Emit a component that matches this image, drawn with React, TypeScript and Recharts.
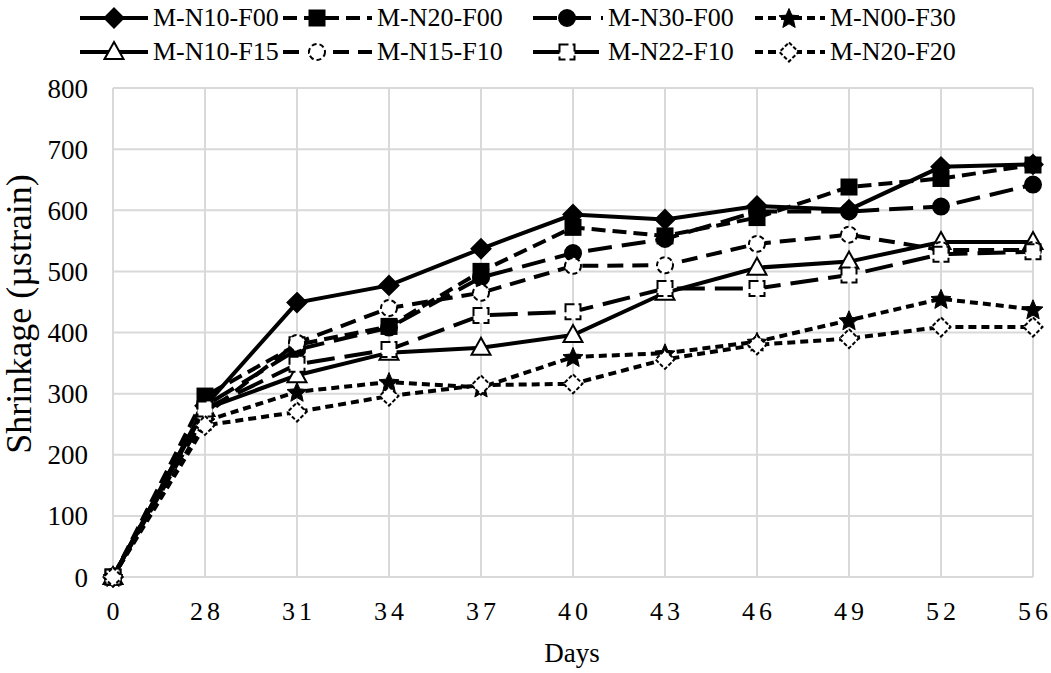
import { LineChart, Line, XAxis, YAxis, CartesianGrid, Label } from 'recharts';

// shrinkage readings (µstrain) by day
const days = ['0', '28', '31', '34', '37', '40', '43', '46', '49', '52', '56'];
const yTicks = [0, 100, 200, 300, 400, 500, 600, 700, 800];

const mN10F00 = [0, 280, 449, 477, 537, 593, 585, 607, 601, 671, 675];
const mN20F00 = [0, 296, 380, 410, 500, 572, 558, 588, 638, 652, 674];
const mN30F00 = [0, 280, 372, 408, 490, 530, 553, 598, 598, 606, 642];
const mN00F30 = [0, 255, 303, 319, 310, 360, 366, 385, 420, 455, 438];
const mN10F15 = [0, 275, 330, 367, 375, 396, 465, 506, 516, 548, 548];
const mN15F10 = [0, 265, 383, 440, 465, 509, 510, 545, 560, 535, 535];
const mN22F10 = [0, 275, 348, 372, 428, 434, 472, 472, 494, 528, 532];
const mN20F20 = [0, 248, 270, 296, 314, 316, 356, 380, 390, 409, 409];

type Shape = 'diamond' | 'square' | 'circle' | 'star' | 'triangle';

interface SeriesDef {
  name: string;
  values: number[];
  dash?: string;
  shape: Shape;
  filled: boolean;
  markerDash?: string;
}

const series: SeriesDef[] = [
  { name: 'M-N10-F00', values: mN10F00, shape: 'diamond', filled: true },
  { name: 'M-N20-F00', values: mN20F00, dash: '14 7', shape: 'square', filled: true },
  { name: 'M-N30-F00', values: mN30F00, dash: '24 10', shape: 'circle', filled: true },
  { name: 'M-N00-F30', values: mN00F30, dash: '8 5', shape: 'star', filled: true },
  { name: 'M-N10-F15', values: mN10F15, shape: 'triangle', filled: false },
  { name: 'M-N15-F10', values: mN15F10, dash: '16 9', shape: 'circle', filled: false, markerDash: '5 3' },
  { name: 'M-N22-F10', values: mN22F10, dash: '28 10', shape: 'square', filled: false, markerDash: '9 4' },
  { name: 'M-N20-F20', values: mN20F20, dash: '8 5', shape: 'diamond', filled: false, markerDash: '4 2' },
];

const chartData = days.map((d, i) => {
  const row: Record<string, string | number> = { day: d };
  series.forEach((s) => {
    row[s.name] = s.values[i];
  });
  return row;
});

const FONT = "'Liberation Serif', 'Times New Roman', Times, 'DejaVu Serif', serif";

function Marker({ cx, cy, shape, filled, dash }: { cx: number; cy: number; shape: Shape; filled: boolean; dash?: string }) {
  const p = {
    fill: filled ? '#000' : '#fff',
    stroke: '#000',
    strokeWidth: 2,
    strokeDasharray: dash,
  };
  if (shape === 'diamond') {
    const s = 9.5;
    return <polygon {...p} points={`${cx},${cy - s} ${cx + s},${cy} ${cx},${cy + s} ${cx - s},${cy}`} />;
  }
  if (shape === 'square') {
    return <rect {...p} x={cx - 7.5} y={cy - 7.5} width={15} height={15} />;
  }
  if (shape === 'circle') {
    return <circle {...p} cx={cx} cy={cy} r={8} />;
  }
  if (shape === 'triangle') {
    return <polygon {...p} points={`${cx},${cy - 10} ${cx + 9.5},${cy + 7} ${cx - 9.5},${cy + 7}`} />;
  }
  // star
  const pts: string[] = [];
  for (let k = 0; k < 10; k++) {
    const r = k % 2 === 0 ? 10.5 : 4.8;
    const a = -Math.PI / 2 + (k * Math.PI) / 5;
    pts.push(`${cx + r * Math.cos(a)},${cy + 1 + r * Math.sin(a)}`);
  }
  return <polygon {...p} strokeWidth={1} points={pts.join(' ')} />;
}

function makeDot(s: SeriesDef) {
  return (props: any) => {
    const { cx, cy, index } = props;
    if (cx == null || cy == null) return <g key={index} />;
    return (
      <g key={`${s.name}-${index}`}>
        <Marker cx={cx} cy={cy} shape={s.shape} filled={s.filled} dash={s.markerDash} />
      </g>
    );
  };
}

function XTick(props: any) {
  const { x, y, payload } = props;
  return (
    <text x={x + 2} y={y} dy="0.71em" textAnchor="middle" letterSpacing={4} fontSize={26} style={{ fontFamily: FONT }} fill="#000">
      {payload.value}
    </text>
  );
}

// legend columns: where the symbol starts and where the text starts
const legendCols = [
  { sym: 80, text: 153 },
  { sym: 283, text: 377 },
  { sym: 533, text: 608 },
  { sym: 755, text: 830 },
];
const legendRows = [18, 52];

function LegendItem({ s, col, rowY }: { s: SeriesDef; col: { sym: number; text: number }; rowY: number }) {
  const w = col.text - col.sym - 5;
  return (
    <>
      <svg
        width={w}
        height={30}
        style={{ position: 'absolute', left: col.sym, top: rowY - 15, overflow: 'visible' }}
      >
        <line x1={0} y1={15} x2={w} y2={15} stroke="#000" strokeWidth={4} strokeDasharray={s.dash} />
        <Marker cx={34} cy={15} shape={s.shape} filled={s.filled} dash={s.markerDash} />
      </svg>
      <span
        style={{
          position: 'absolute',
          left: col.text,
          top: rowY - 15,
          lineHeight: '30px',
          fontSize: 26,
          fontFamily: FONT,
          whiteSpace: 'nowrap',
        }}
      >
        {s.name}
      </span>
    </>
  );
}

export default function App() {
  return (
    <div style={{ position: 'absolute', left: 0, top: 0, width: 1051, height: 673, background: '#fff', fontFamily: FONT }}>
      {series.map((s, i) => (
        <LegendItem key={s.name} s={s} col={legendCols[i % 4]} rowY={legendRows[Math.floor(i / 4)]} />
      ))}
      <LineChart
        width={1051}
        height={673}
        data={chartData}
        margin={{ top: 88, right: 18, bottom: 0, left: 0 }}
        style={{ fontFamily: FONT }}
      >
        <CartesianGrid stroke="#d9d9d9" strokeWidth={2} />
        <XAxis
          dataKey="day"
          axisLine={false}
          tickLine={false}
          height={96}
          interval={0}
          tickMargin={19}
          tick={<XTick />}
        >
          <Label
            content={() => (
              <text x={572} y={662} textAnchor="middle" fontSize={27} style={{ fontFamily: FONT }} fill="#000">
                Days
              </text>
            )}
          />
        </XAxis>
        <YAxis
          domain={[0, 800]}
          ticks={yTicks}
          width={113}
          axisLine={false}
          tickLine={false}
          tickSize={6}
          tickMargin={19}
          tick={{ fill: '#000', fontSize: 27, style: { fontFamily: FONT } }}
        >
          <Label
            content={() => (
              <text
                transform="translate(31,314) rotate(-90)"
                textAnchor="middle"
                fontSize={36}
                style={{ fontFamily: FONT }}
                fill="#000"
              >
                Shrinkage (µstrain)
              </text>
            )}
          />
        </YAxis>
        {series.map((s) => (
          <Line
            key={s.name}
            dataKey={s.name}
            stroke="#000"
            strokeWidth={4}
            strokeDasharray={s.dash}
            dot={makeDot(s)}
            activeDot={false}
            isAnimationActive={false}
          />
        ))}
      </LineChart>
    </div>
  );
}
